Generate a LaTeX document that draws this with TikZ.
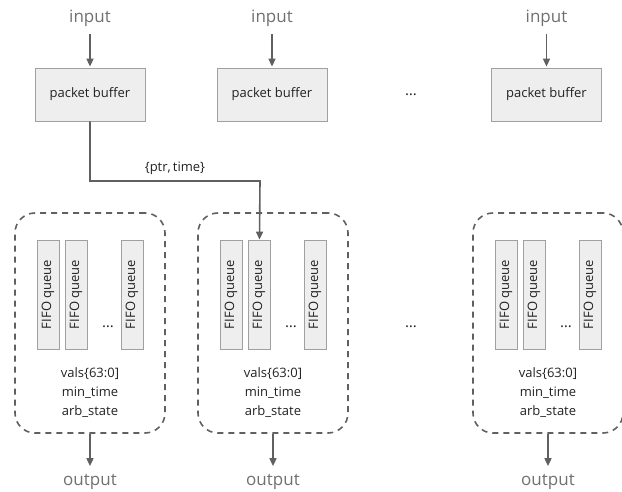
\documentclass[tikz,border=0pt]{standalone}
\usepackage{fontspec}
\setmainfont{Open Sans}
\usetikzlibrary{arrows.meta}
\definecolor{boxfill}{HTML}{EEEEEE}
\definecolor{boxline}{HTML}{A0A0A0}
\definecolor{darkline}{HTML}{606060}
\definecolor{lbltxt}{HTML}{707070}
\definecolor{intxt}{HTML}{222222}
\tikzset{
  buf/.style={draw=boxline, fill=boxfill, line width=0.8pt, minimum width=110pt, minimum height=53pt, inner sep=0pt, font=\fontsize{13}{15}\selectfont, text=intxt},
  queue/.style={draw=boxline, fill=boxfill, line width=0.8pt, rotate=90, minimum width=109pt, minimum height=22pt, inner sep=0pt, font=\fontsize{13}{15}\selectfont, text=intxt},
  grp/.style={draw=darkline, line width=1.6pt, dash pattern=on 6pt off 5pt, rounded corners=20pt, minimum width=150pt, minimum height=220pt, inner sep=0pt},
  lbl/.style={font=\fontsize{17}{19}\selectfont, text=lbltxt, inner sep=2pt},
  state/.style={align=center, font=\fontsize{13}{19}\selectfont, text=intxt, inner sep=0pt},
  dots/.style={font=\fontsize{15}{16}\selectfont, text=intxt, inner sep=0pt},
  arr/.style={draw=darkline, line width=1.6pt, -{Triangle[length=8pt,width=7pt]}},
}
\begin{document}
\begin{tikzpicture}[x=1pt,y=-1pt]
\useasboundingbox (0,0) rectangle (622,492);
% top row
\foreach \i/\x in {1/90,2/272,3/546.5}{
  \node[lbl] (in\i) at (\x,18) {input};
  \node[buf] (b\i) at (\x,94.5) {packet buffer};
  \draw[arr, shorten <=6pt, shorten >=1pt] (in\i) -- (b\i);
}
\node[dots] (tdots) at (411,95) {\dots};
% groups
\foreach \i/\x in {1/90,2/273,3/548}{
  \node[grp] (g\i) at (\x,323) {};
  \node[queue] (q\i a) at (\x-42,294.5) {FIFO queue};
  \node[queue] (q\i b) at (\x-14,294.5) {FIFO queue};
  \node[queue] (q\i c) at (\x+42,294.5) {FIFO queue};
  \node[dots] (d\i) at (\x+18,327) {\dots};
  \node[state] (s\i) at (\x,393) {vals\{63:0]\\min\_time\\arb\_state};
  \node[lbl] (out\i) at (\x,482) {output};
  \draw[arr, shorten >=6pt] (g\i) -- (out\i);
}
\node[dots] (mdots) at (411,327) {\dots};
% connector
\coordinate (bend) at (260,181);
\draw[arr] (b1.south) |- (bend) node[pos=0.75, above=2pt, font=\fontsize{13}{15}\selectfont, text=intxt] {\{ptr,\,time\}} -- (q2b);
\end{tikzpicture}
\end{document}
